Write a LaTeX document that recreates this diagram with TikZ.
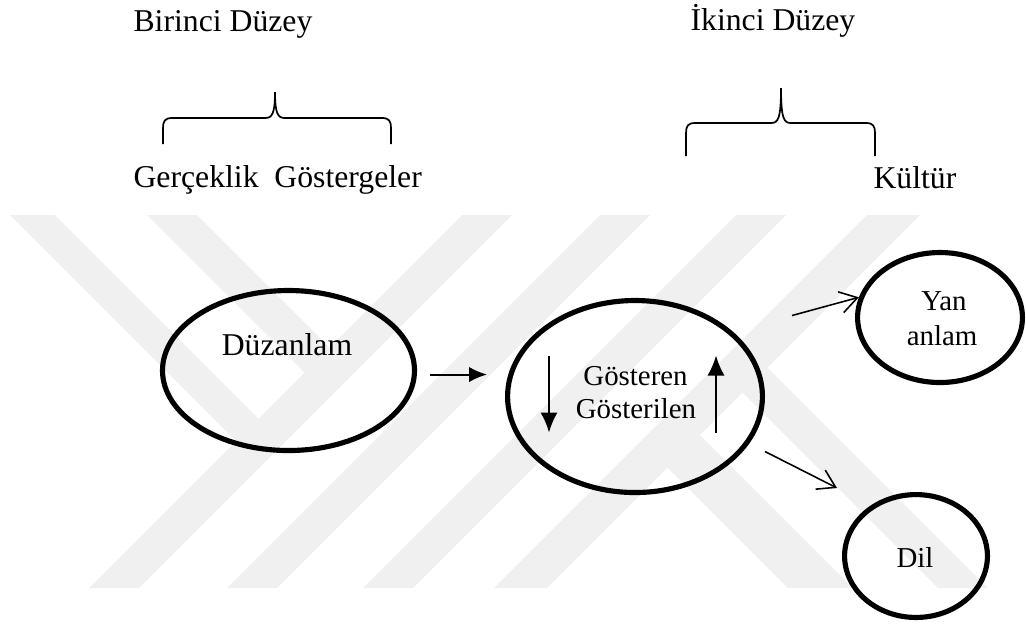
\documentclass[tikz,border=0pt]{standalone}
\usepackage{fontspec}
\setmainfont{Liberation Serif}
\usetikzlibrary{arrows.meta, positioning, calc, shapes.geometric}

\begin{document}
\begin{tikzpicture}[x=0.35pt, y=-0.35pt, font=\fontsize{11.1}{13}\selectfont,
    >={Latex[length=6.3pt,width=5.4pt]}]
  % Styles
  \tikzstyle{oval} = [draw, ellipse, line width=1.8pt, inner sep=0pt]
  \tikzstyle{lbl} = [inner sep=0pt, anchor=base]
  \tikzstyle{small} = [font=\fontsize{10.1}{12}\selectfont]
  \tikzstyle{flow} = [->, line width=0.7pt]
  \tikzstyle{barb} = [-{Straight Barb[length=6pt,width=7.5pt]}, line width=0.55pt]
  \tikzstyle{brace} = [line width=0.6pt]
  \tikzstyle{wm} = [fill=black!6, draw=none]

  \useasboundingbox (0,0) rectangle (1026,626);

  % Watermark bands
  \fill[wm] (10,215) -- (55,215) -- (260,420) -- (237.5,442.5) -- cycle;
  \fill[wm] (147,215) -- (197,215) -- (331,349) -- (306,374) -- cycle;
  \fill[wm] (462,215) -- (512,215) -- (139,588) -- (89,588) -- cycle;
  \fill[wm] (600,215) -- (650,215) -- (277,588) -- (227,588) -- cycle;
  \fill[wm] (736,215) -- (786,215) -- (413,588) -- (363,588) -- cycle;
  \fill[wm] (867,215) -- (920,215) -- (547,588) -- (494,588) -- cycle;
  \fill[wm] (742.5,392.5) -- (767.5,367.5) -- (988,588) -- (938,588) -- cycle;
  \fill[wm] (667.5,467.5) -- (700,435) -- (853,588) -- (788,588) -- cycle;

  % Levels
  \node[lbl, anchor=base west] (lvl1) at (133,31) {Birinci Düzey};
  \node[lbl, anchor=base west] (lvl2) at (690,30) {İkinci Düzey};
  \node[lbl, anchor=base west] (gerc) at (133,187) {Gerçeklik\ \ Göstergeler};
  \node[lbl, anchor=base west] (kult) at (873,188) {Kültür};

  % Braces
  \draw[brace] (163,144) -- (163,128) .. controls (163,121) and (165,118) .. (172,118)
    -- (265,118) .. controls (272,118) and (275,114) .. (275,92)
    .. controls (275,114) and (278,118) .. (285,118) -- (382,118)
    .. controls (389,118) and (391,121) .. (391,128) -- (391,144);
  \draw[brace] (686,156) -- (686,133) .. controls (686,126) and (688,123) .. (695,123)
    -- (771,123) .. controls (778,123) and (781,119) .. (781,88)
    .. controls (781,119) and (784,123) .. (791,123) -- (866,123)
    .. controls (873,123) and (875,126) .. (875,133) -- (875,156);

  % Ellipses
  \node[oval, minimum width=88.2pt, minimum height=56pt] (duz) at (288.5,370.5) {};
  \node[oval, minimum width=89.2pt, minimum height=67.2pt] (mid) at (635,396.5) {};
  \node[oval, minimum width=57.7pt, minimum height=45.5pt] (yan) at (940,317.5) {};
  \node[oval, minimum width=50pt, minimum height=43pt] (dil) at (916,556) {};

  % Texts
  \node[lbl] (duzt) at (287,355) {Düzanlam};
  \node[lbl, small] (gost) at (635.5,385) {Gösteren};
  \node[lbl, small] (gosl) at (636,418) {Gösterilen};
  \node[lbl, small] (yant) at (944,310) {Yan};
  \node[lbl, small] (anlt) at (942,345) {anlam};
  \node[lbl, small] (dilt) at (915,567) {Dil};

  % Arrows
  \draw[flow, shorten <=4.5pt, shorten >=6.3pt] ([yshift=-1.4pt]duz.east) -- ([yshift=-1.4pt]duz.east -| mid.west);
  \draw[flow, >={Latex[length=7pt,width=6pt]}] ([shift={(-86,-41)}]mid.center) -- ([shift={(-86,36)}]mid.center);
  \draw[flow, >={Latex[length=7pt,width=6pt]}] ([shift={(81,36)}]mid.center) -- ([shift={(81,-41)}]mid.center);
  \draw[barb] ([shift={(27,-81)}]mid.east) -- (yan.166);
  \draw[barb] ([shift={(0,55)}]mid.east) -- ([shift={(-79,-68)}]dil.center);

\end{tikzpicture}
\end{document}
